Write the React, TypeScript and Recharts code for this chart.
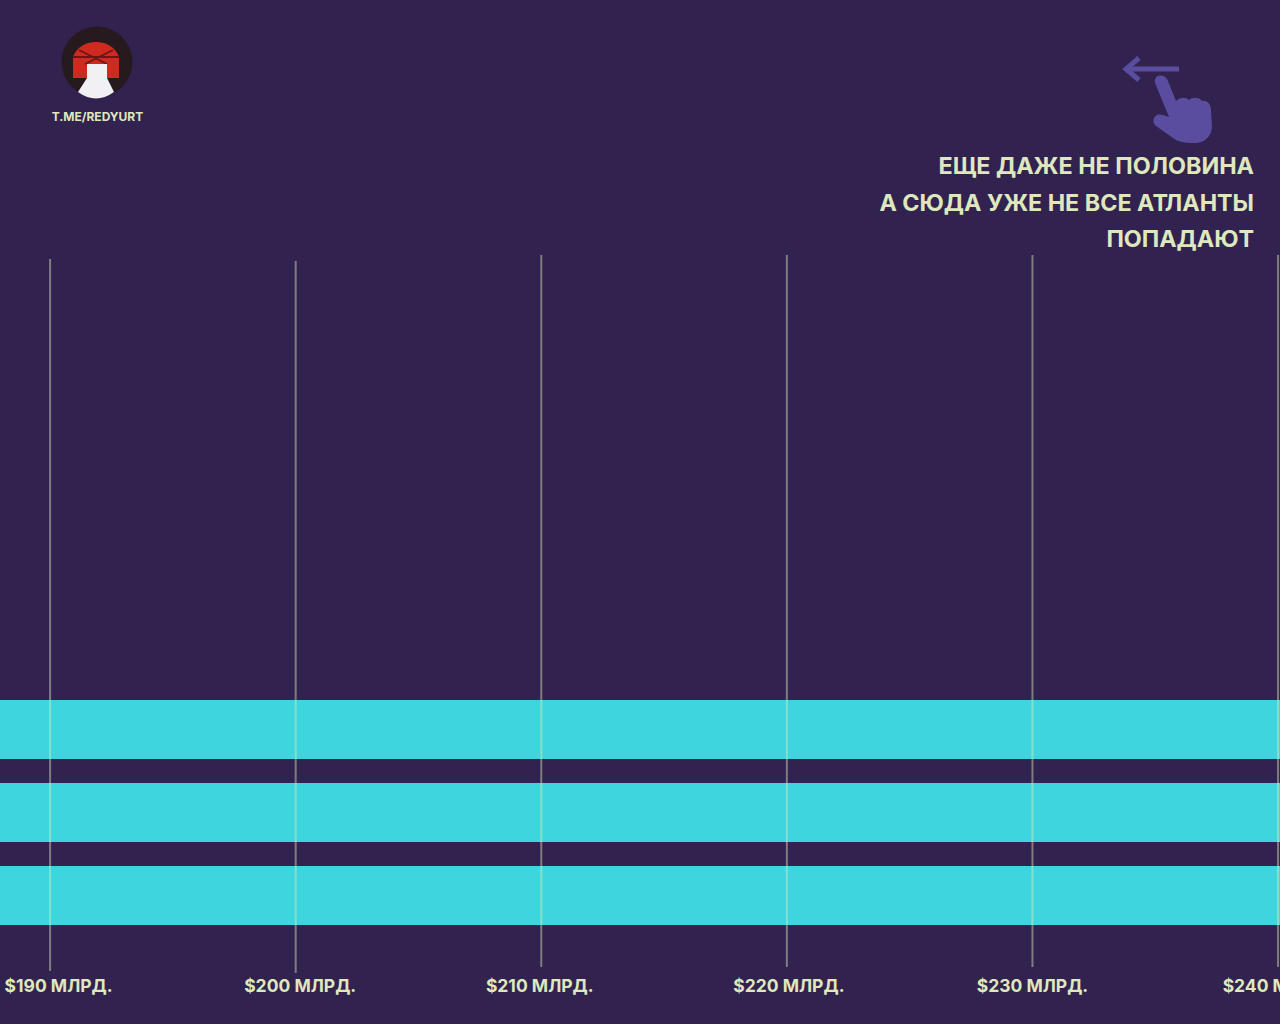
import { BarChart, Bar, XAxis, YAxis, ReferenceLine } from "recharts";

const categories = ["a", "b", "c"];
// bars run off the right edge of this slide, so their ends are estimates
const billions = [246, 250, 256];
const ticks = [190, 200, 210, 220, 230, 240];
const tickLabels = ["$190 МЛРД.", "$200 МЛРД.", "$210 МЛРД.", "$220 МЛРД.", "$230 МЛРД.", "$240 МЛРД."];
const titleLines = ["ЕЩЕ ДАЖЕ НЕ ПОЛОВИНА", "А СЮДА УЖЕ НЕ ВСЕ АТЛАНТЫ", "ПОПАДАЮТ"];
// the first two gridlines sit a little lower in the original
const lineShift = [4, 6, 0, 0, 0, 0];
// and the labels are not quite centred under their lines
const labelNudge = [8.5, 4.5, -1.5, 2, 0, 0.5];

const data = categories.map((name, i) => ({ name, value: billions[i] }));

const FONT = "Inter, 'Noto Sans', sans-serif";
const BG = "#312250";
const LIGHT = "#dfe8bd";

function XTick(props: any) {
  const { x, y, payload } = props;
  const i = ticks.indexOf(payload.value);
  return (
    <text x={x + labelNudge[i]} y={y + 17} textAnchor="middle" fill={LIGHT} fontFamily={FONT} fontWeight={700} fontSize={17.5}>
      {tickLabels[i]}
    </text>
  );
}

function GridLine(props: any) {
  const { x1, y1, x2, y2, shift } = props;
  return <line x1={x1} y1={y1 + shift} x2={x2} y2={y2 + shift} stroke={LIGHT} strokeOpacity={0.45} strokeWidth={2} />;
}

function Logo() {
  return (
    <svg width={100} height={80} style={{ position: "absolute", left: 47, top: 22 }}>
      <circle cx={50} cy={40} r={35.5} fill="#261a1e" />
      <path d="M26 56 L26 35 C30 24 40 20 49 20 C58 20 68 24 72 35 L72 56 Z" fill="#cf2a20" />
      <path d="M26 35 L72 35" stroke="#6d1512" strokeWidth={2} />
      <path d="M32 28 L60 42 M66 28 L38 42" stroke="#6d1512" strokeWidth={1.5} />
      <path d="M40 42 L60 42 L60 56 L67 70 Q49 83 31 70 L40 56 Z" fill="#f1f0f3" />
    </svg>
  );
}

function SwipeIcon() {
  return (
    <svg width={110} height={100} style={{ position: "absolute", left: 1110, top: 50 }}>
      <path d="M69 19 L16 19" fill="none" stroke="#5a4c9f" strokeWidth={5} />
      <path d="M29 8 L16 19 L29 30" fill="none" stroke="#5a4c9f" strokeWidth={5} />
      <path
        d="M45 33 C43 24 55 23 58 31 L66 51 C70 47 76 47 79 50 C83 47 89 47 92 51 C97 50 101 54 101 60 L102 76 C102 88 92 94 83 93 C75 93 68 92 63 88 L46 76 C40 71 45 62 53 65 L59 67 Z"
        fill="#5a4c9f"
      />
    </svg>
  );
}

export default function App() {
  return (
    <div style={{ position: "absolute", left: 0, top: 0, width: 1280, height: 1024, overflow: "hidden", background: BG }}>
      <BarChart
        width={1280}
        height={1024}
        data={data}
        layout="vertical"
        barSize={59}
        margin={{ top: 255, right: 0, bottom: 0, left: 0 }}
      >
        <XAxis
          type="number"
          domain={[187.96, 240.08]}
          allowDataOverflow
          ticks={ticks}
          interval={0}
          axisLine={false}
          tickLine={false}
          tick={<XTick />}
          height={57}
        />
        <YAxis type="category" dataKey="name" hide width={0} padding={{ top: 433, bottom: 30 }} />
        <Bar dataKey="value" fill="#3ed6de" isAnimationActive={false} />
        {ticks.map((t, i) => (
          <ReferenceLine key={t} x={t} shape={(p: any) => <GridLine {...p} shift={lineShift[i]} />} />
        ))}
      </BarChart>

      <Logo />
      <div style={{ position: "absolute", left: 0, top: 109, width: 195, textAlign: "center", color: LIGHT, fontFamily: FONT, fontWeight: 700, fontSize: 12 }}>
        T.ME/REDYURT
      </div>
      <SwipeIcon />
      <div style={{ position: "absolute", right: 26, top: 148, textAlign: "right", color: LIGHT, fontFamily: FONT, fontWeight: 700, fontSize: 23.3, lineHeight: "36.5px" }}>
        {titleLines.map((line) => (
          <div key={line}>{line}</div>
        ))}
      </div>
    </div>
  );
}
